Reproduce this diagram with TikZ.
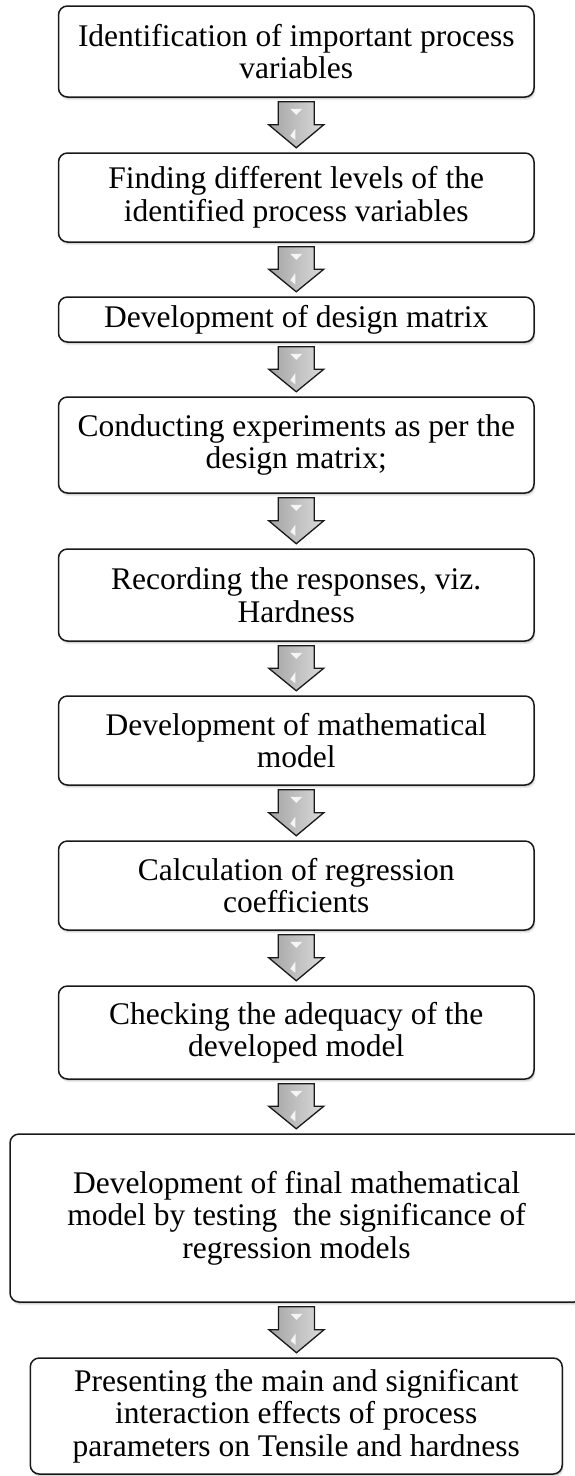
\documentclass[tikz,border=0pt]{standalone}
\usepackage{fontspec}
\setmainfont{Liberation Serif}
\usetikzlibrary{calc,shadows}
\tikzset{
  softshadow/.style={
    general shadow={shadow xshift=0.8pt, shadow yshift=-1.6pt, fill=black, opacity=0.14},
    general shadow={shadow xshift=1.4pt, shadow yshift=-3.2pt, fill=black, opacity=0.08}},
  stepbox/.style={draw=black!90, line width=1.5pt, rounded corners=9pt, fill=white,
    align=center, inner sep=0pt, font=\fontsize{31.5}{32.5}\selectfont, softshadow},
  normalbox/.style={stepbox, minimum width=475.5pt},
  flowarrow/.style={draw=black!90, line width=1.3pt, left color=gray!72, right color=gray!28,
    line join=miter},
  glint/.style={fill=white, opacity=0.85}
}
\newcommand{\flowarr}[2]{%
  \draw[flowarrow] let \p1=($(#1.south)+(0pt,-4pt)$), \p2=($(#2.north)+(0pt,4.5pt)$),
      \p3=($(\p1)!0.5!(\p2)$) in
    (\x1-18pt,\y1) -- (\x1+18pt,\y1) -- (\x1+18pt,\y3) -- (\x1+27.5pt,\y3)
    -- (\x1,\y2) -- (\x1-27.5pt,\y3) -- (\x1-18pt,\y3) -- cycle;
  \fill[glint] let \p1=($(#1.south)+(0pt,-4pt)$), \p2=($(#2.north)+(0pt,4.5pt)$),
      \p3=($(\p1)!0.5!(\p2)$) in
    (\x1-6pt,\y1-7pt) -- (\x1+6pt,\y1-7pt) -- (\x1,\y1-13pt) -- cycle
    (\x1-1pt,\y3-4pt) -- (\x1-6pt,\y3-11pt) -- (\x1-1pt,\y3-15pt) -- cycle;
}
\begin{document}
\begin{tikzpicture}[x=1pt,y=-1pt]
\useasboundingbox (0,0) rectangle (574,1476);
\fill[white] (0,0) rectangle (574,1476);

\node[normalbox, minimum height=91pt] (b1) at (296.25,51.5)
  {Identification of important process\\variables};
\node[normalbox, minimum height=89pt] (b2) at (296.25,197.5)
  {Finding different levels of the\\identified process variables};
\node[normalbox, minimum height=45pt] (b3) at (296.25,319.5)
  {Development of design matrix};
\node[normalbox, minimum height=96pt] (b4) at (296.25,445)
  {Conducting experiments as per the\\design matrix;};
\node[normalbox, minimum height=92pt] (b5) at (296.25,595)
  {Recording the responses, viz.\\Hardness};
\node[normalbox, minimum height=89pt] (b6) at (296.25,740.5)
  {Development of mathematical\\model};
\node[normalbox, minimum height=89pt] (b7) at (296.25,885.5)
  {Calculation of regression\\coefficients};
\node[normalbox, minimum height=93pt] (b8) at (296.25,1032.5)
  {Checking the adequacy of the\\developed model};
\node[stepbox, minimum width=573pt, minimum height=168pt] (b9) at (296.5,1218)
  {Development of final mathematical\\model by testing\ \ the significance of\\regression models};
\node[stepbox, minimum width=532pt, minimum height=116pt] (b10) at (296.25,1416)
  {Presenting the main and significant\\interaction effects of process\\parameters on Tensile and hardness};

\flowarr{b1}{b2}
\flowarr{b2}{b3}
\flowarr{b3}{b4}
\flowarr{b4}{b5}
\flowarr{b5}{b6}
\flowarr{b6}{b7}
\flowarr{b7}{b8}
\flowarr{b8}{b9}
\flowarr{b9}{b10}
\end{tikzpicture}
\end{document}
